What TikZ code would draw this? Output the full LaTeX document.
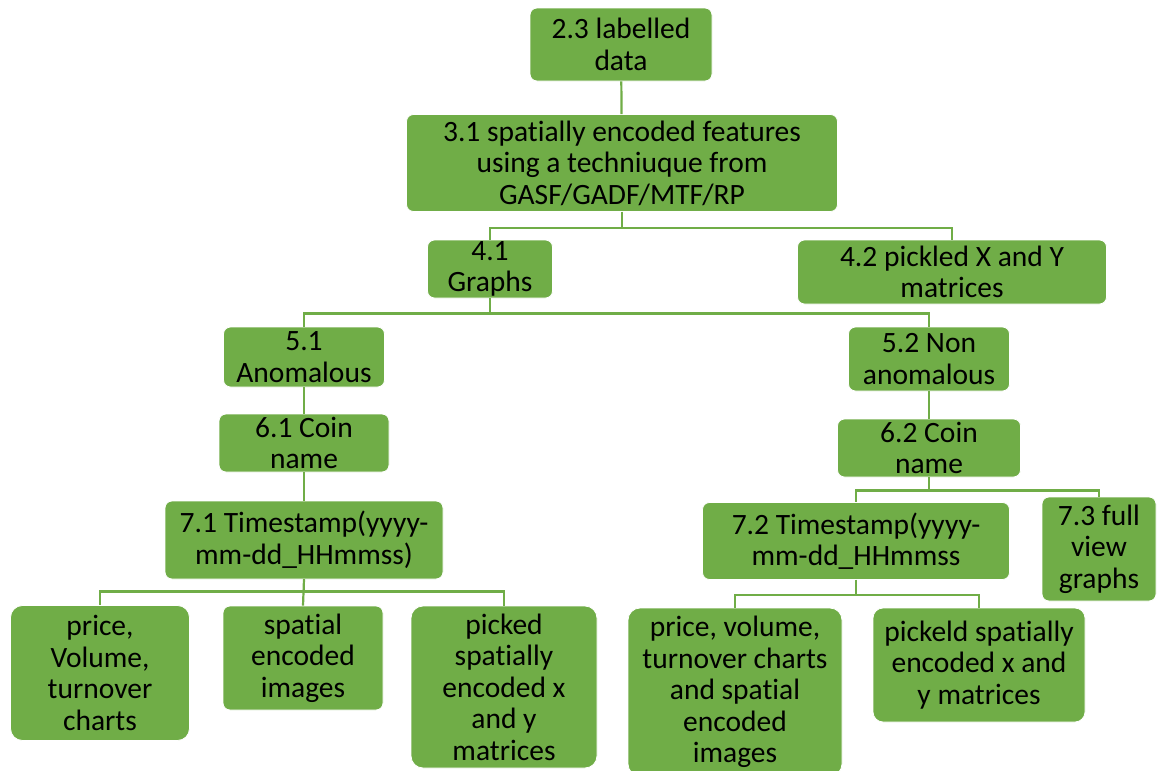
\documentclass[tikz,border=0pt]{standalone}
\usepackage{fontspec}
\setmainfont{Carlito}[Ligatures=NoCommon]
\usetikzlibrary{positioning}
\definecolor{leafgreen}{HTML}{70AD47}
\tikzset{
greenbox/.style={
  rectangle,
  rounded corners=7pt,
  fill=leafgreen,
  draw=white,
  line width=0.8pt,
  inner sep=0pt,
  align=center,
  text=black,
  font=\fontsize{29.5}{31.5}\selectfont
  },
branch/.style={
  draw=leafgreen,
  line width=2.2pt
  }
}

\begin{document}
\begin{tikzpicture}[x=1pt,y=-1pt]
\useasboundingbox (0,0) rectangle (1160,771);
% top of the tree
\node[greenbox,minimum width=182,minimum height=73] (n23) at (621,44.5) {2.3 labelled\\data};
\node[greenbox,minimum width=431,minimum height=97] (n31) at (622,163)
  {3.1 spatially encoded features\\using a techniuque from\\GASF/GADF/MTF/RP};
\node[greenbox,minimum width=125,minimum height=58] (n41) at (490,269) {4.1\\Graphs};
\node[greenbox,minimum width=309,minimum height=64] (n42) at (952,272) {4.2 pickled X and Y\\matrices};
% anomalous side
\node[greenbox,minimum width=161,minimum height=60] (n51) at (304,357) {5.1\\Anomalous};
\node[greenbox,minimum width=170,minimum height=58] (n61) at (304,443) {6.1 Coin\\name};
\node[greenbox,minimum width=278,minimum height=78] (n71) at (304,540) {7.1 Timestamp(yyyy-\\mm-dd\_HHmmss)};
\node[greenbox,rounded corners=12pt,minimum width=179,minimum height=135] (lf1) at (100,673)
  {price,\\Volume,\\turnover\\charts};
\node[greenbox,minimum width=160,minimum height=104] (lf2) at (303,658) {spatial\\encoded\\images};
\node[greenbox,rounded corners=12pt,minimum width=186,minimum height=162] (lf3) at (504,687)
  {picked\\spatially\\encoded x\\and y\\matrices};
% non anomalous side
\node[greenbox,minimum width=161,minimum height=64] (n52) at (929,359) {5.2 Non\\anomalous};
\node[greenbox,minimum width=183,minimum height=58] (n62) at (929,448) {6.2 Coin\\name};
\node[greenbox,minimum width=307,minimum height=77] (n72) at (856,541) {7.2 Timestamp(yyyy-\\mm-dd\_HHmmss};
\node[greenbox,minimum width=114,minimum height=104] (n73) at (1099,549) {7.3 full\\view\\graphs};
\node[greenbox,rounded corners=12pt,minimum width=214,minimum height=168] (rf1) at (735,692)
  {price, volume,\\turnover charts\\and spatial\\encoded\\images};
\node[greenbox,rounded corners=10pt,minimum width=212,minimum height=114] (rf2) at (979,665)
  {pickeld spatially\\encoded x and\\y matrices};

% connectors
\draw[branch] (n23) -- (n31);
\draw[branch] (n31.south) -- ++(0,16) -| (n41.north);
\draw[branch] (n31.south) -- ++(0,16) -| (n42.north);
\draw[branch] (n41.south) -- ++(0,15) -| (n51.north);
\draw[branch] (n41.south) -- ++(0,15) -| (n52.north);
\draw[branch] (n51) -- (n61);
\draw[branch] (n61) -- (n71);
\draw[branch] (n71.south) -- ++(0,12) -| (lf1.north);
\draw[branch] (n71.south) -- (lf2.north);
\draw[branch] (n71.south) -- ++(0,12) -| (lf3.north);
\draw[branch] (n52) -- (n62);
\draw[branch] (n62.south) -- ++(0,13) -| (n72.north);
\draw[branch] (n62.south) -- ++(0,13) -| (n73.north);
\draw[branch] (n72.south) -- ++(0,15) -| (rf1.north);
\draw[branch] (n72.south) -- ++(0,15) -| (rf2.north);
\end{tikzpicture}
\end{document}
